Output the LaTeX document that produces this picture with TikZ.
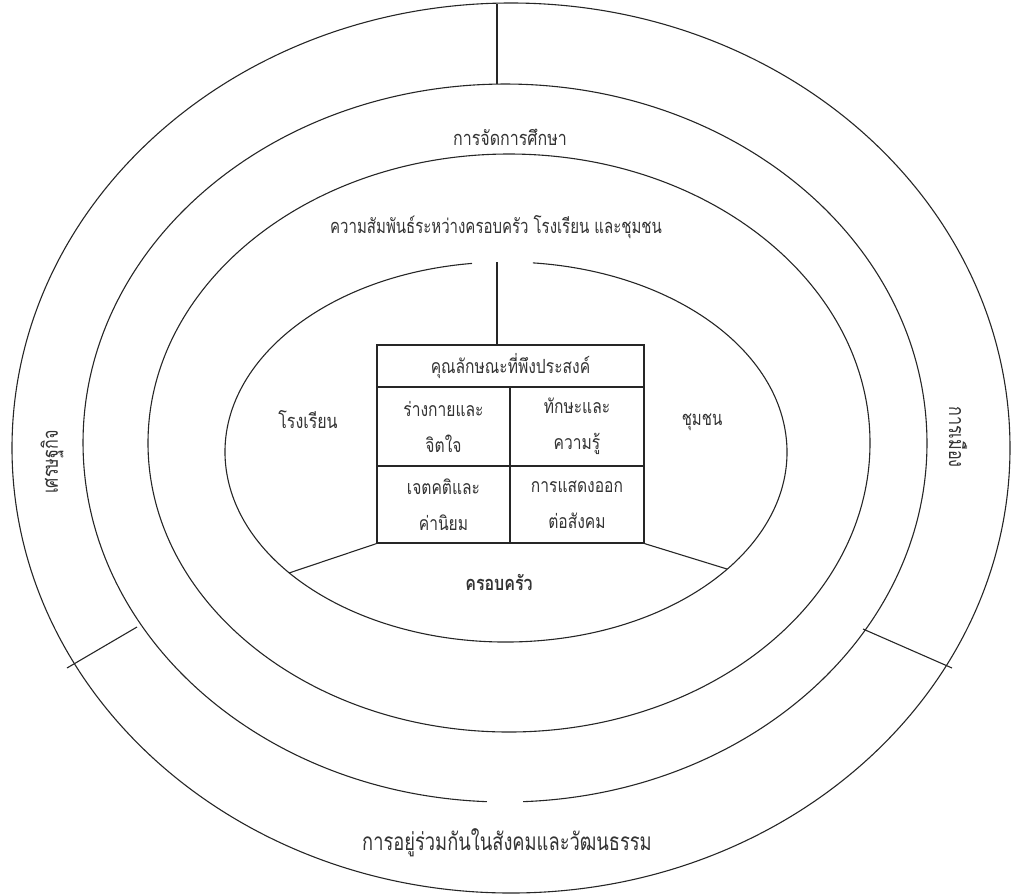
\documentclass[tikz,border=0pt]{standalone}
\usepackage{fontspec}
\newfontfamily\thaiA[Script=Thai,FakeStretch=0.8]{Loma}
\newfontfamily\thaiB[Script=Thai,FakeStretch=0.75]{Loma}
\begin{document}
\begin{tikzpicture}[x=1pt,y=-1pt,
  rule/.style={draw=black!85,line width=1.1pt},
  lbl/.style={font=\thaiA\fontsize{20}{22}\selectfont,inner sep=0pt,text=black!80},
  lblb/.style={font=\thaiB\fontsize{20}{22}\selectfont,inner sep=0pt,text=black!80},
  big/.style={font=\thaiB\fontsize{24.4}{27}\selectfont,inner sep=0pt,text=black!80},
  side/.style={font=\thaiB\fontsize{21.5}{24}\selectfont,inner sep=0pt,text=black!80},
  cell/.style={draw=black!85,line width=1.2pt,inner sep=0pt,align=center,
    font=\thaiA\fontsize{19.5}{36}\selectfont,text=black!80}]
\useasboundingbox (0,0) rectangle (1011,895);
% rings
\draw[rule] (511,448) ellipse [x radius=499pt, y radius=445pt];
\draw[rule] ([shift={(272.45:422pt and 359pt)}]505,443)
  arc[start angle=272.45, end angle=627.55, x radius=422pt, y radius=359pt];
\draw[rule] (509,443) ellipse [x radius=361pt, y radius=289pt];
\draw[rule] ([shift={(96.95:281pt and 190pt)}]506,452)
  arc[start angle=96.95, end angle=444.5, x radius=281pt, y radius=190pt];
% dividing lines
\coordinate (a1) at (497,4);
\coordinate (a2) at (497,84);
\coordinate (a3) at (497,262);
\coordinate (l1) at (137,627);
\coordinate (l2) at (67,668);
\coordinate (r1) at (863,629);
\coordinate (r2) at (952,668);
\coordinate (fl) at (289,573);
\coordinate (fr) at (727,569);
% box
\node[cell,minimum width=267pt,minimum height=42pt] (hdr) at (510.5,366) {คุณลักษณะที่พึงประสงค์};
\node[cell,minimum width=133pt,minimum height=79pt] (c11) at (443.5,426.5) {ร่างกายและ\\จิตใจ};
\node[cell,minimum width=134pt,minimum height=79pt] (c12) at (577,426.5) {ทักษะและ\\ความรู้};
\node[cell,minimum width=133pt,minimum height=77pt] (c21) at (443.5,504.5) {เจตคติและ\\ค่านิยม};
\node[cell,minimum width=134pt,minimum height=77pt] (c22) at (577,504.5) {การแสดงออก\\ต่อสังคม};
\draw[rule] (a1) -- (a2);
\draw[rule] (a3) -- (a3 |- hdr.north);
\draw[rule] (l1) -- (l2);
\draw[rule] (r1) -- (r2);
\draw[rule] (c21.south west) -- (fl);
\draw[rule] (c22.south east) -- (fr);
% labels
\node[lbl] (edu) at (510,137) {การจัดการศึกษา};
\node[lblb] (rel) at (496,227) {ความสัมพันธ์ระหว่างครอบครัว โรงเรียน และชุมชน};
\node[lbl] (sch) at (308,420) {โรงเรียน};
\node[lblb] (com) at (702,422) {ชุมชน};
\node[lbl,font=\thaiA\bfseries\fontsize{20}{22}\selectfont] (fam) at (499,582) {ครอบครัว};
\node[side,rotate=90] (eco) at (52,462) {เศรษฐกิจ};
\node[side,rotate=-90] (pol) at (958,437) {การเมือง};
\node[big] (soc) at (507,843) {การอยู่ร่วมกันในสังคมและวัฒนธรรม};
\end{tikzpicture}
\end{document}
